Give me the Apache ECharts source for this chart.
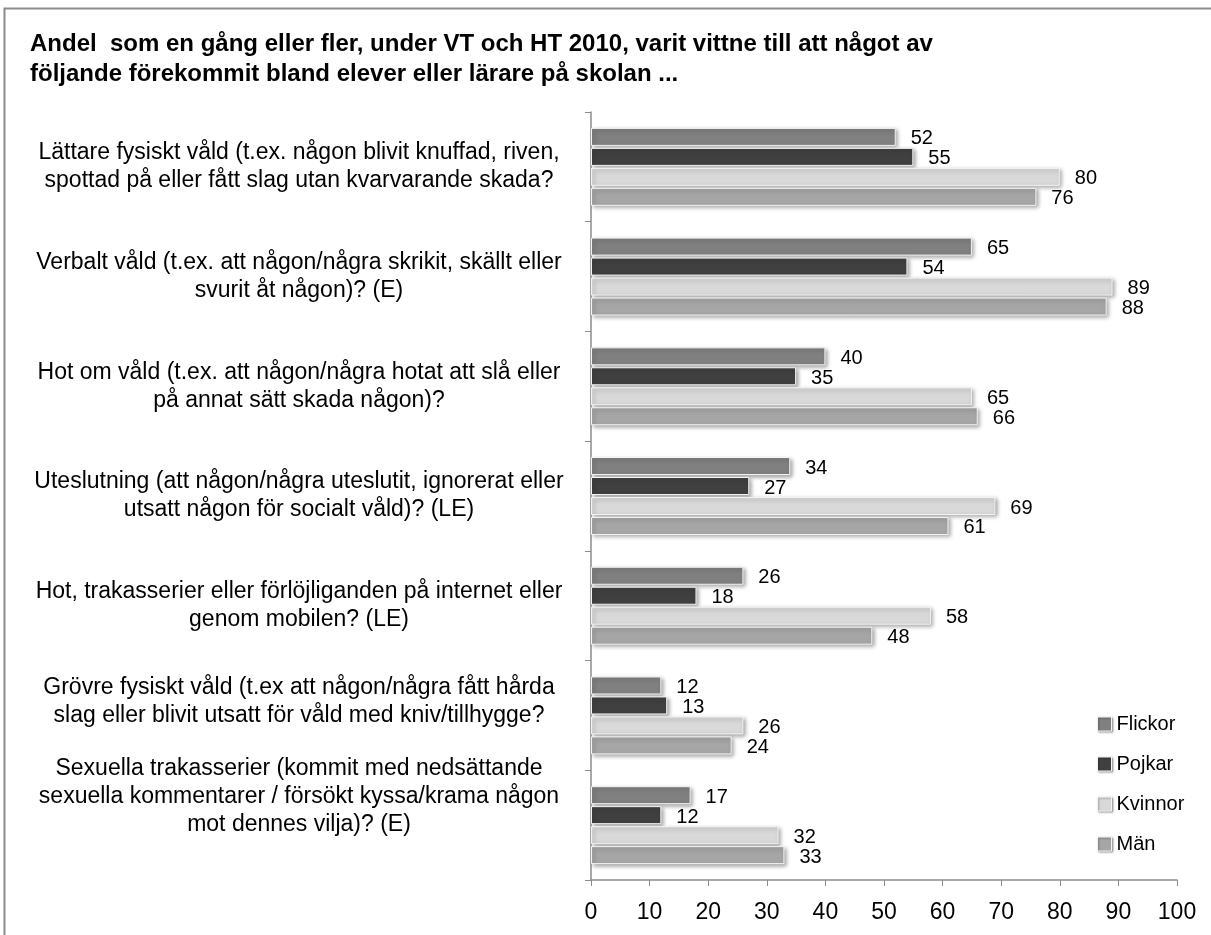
<!DOCTYPE html>
<html>
<head>
<meta charset="utf-8">
<script src="https://cdn.jsdelivr.net/npm/echarts@6/dist/echarts.min.js"></script>
<style>
  html, body { margin: 0; padding: 0; background: #fff; }
  #chart { width: 1211px; height: 935px; }
</style>
</head>
<body>
<div id="chart"></div>
<script>
  // categories, top to bottom
  var categories = [
    'Lättare fysiskt våld (t.ex. någon blivit knuffad, riven,\nspottad på eller fått slag utan kvarvarande skada?',
    'Verbalt våld (t.ex. att någon/några skrikit, skällt eller\nsvurit åt någon)? (E)',
    'Hot om våld (t.ex. att någon/några hotat att slå eller\npå annat sätt skada någon)?',
    'Uteslutning (att någon/några uteslutit, ignorerat eller\nutsatt någon för socialt våld)? (LE)',
    'Hot, trakasserier eller förlöjliganden på internet eller\ngenom mobilen? (LE)',
    'Grövre fysiskt våld (t.ex att någon/några fått hårda\nslag eller blivit utsatt för våld med kniv/tillhygge?',
    'Sexuella trakasserier (kommit med nedsättande\nsexuella kommentarer / försökt kyssa/krama någon\nmot dennes vilja)? (E)'
  ]
  var seriesNames = ['Flickor', 'Pojkar', 'Kvinnor', 'Män']
  var flickor = [52, 65, 40, 34, 26, 12, 17]
  var pojkar = [55, 54, 35, 27, 18, 13, 12]
  var kvinnor = [80, 89, 65, 69, 58, 26, 32]
  var man = [76, 88, 66, 61, 48, 24, 33]
  var xTicks = [0, 10, 20, 30, 40, 50, 60, 70, 80, 90, 100]

  var colors = ['#808080', '#404040', '#d9d9d9', '#a6a6a6']
  var font = '"Liberation Sans", "DejaVu Sans", sans-serif'
  // the last two labels sit a bit higher than their bars in the original,
  // empty trailing lines push them up
  var labelLift = [0, 0, 0, 0, 0, 1, 2]

  function makeSeries(name, values, i) {
    return {
      name: name,
      type: 'bar',
      barWidth: 18,
      barGap: '11%',
      itemStyle: {
        color: colors[i],
        borderColor: '#f4f4f4',
        borderWidth: 1,
        shadowColor: 'rgba(0,0,0,0.35)',
        shadowBlur: 4,
        shadowOffsetX: 2,
        shadowOffsetY: 2
      },
      label: {
        show: true,
        position: 'right',
        distance: 15,
        offset: [0, 2],
        color: '#000',
        fontFamily: font,
        fontSize: 20
      },
      data: values
    }
  }

  var myChart = echarts.init(document.getElementById('chart'))
  myChart.setOption({
    animation: false,
    color: colors,
    textStyle: { fontFamily: font },
    title: {
      text: 'Andel  som en gång eller fler, under VT och HT 2010, varit vittne till att något av\nföljande förekommit bland elever eller lärare på skolan ...',
      left: 25,
      top: 24,
      textStyle: { fontSize: 24, fontWeight: 'bold', color: '#000', lineHeight: 30, fontFamily: font }
    },
    graphic: [{
      type: 'rect',
      shape: { x: 4.5, y: 8.5, width: 1260, height: 1000 },
      style: { fill: 'none', stroke: '#8c8c8c', lineWidth: 2 },
      silent: true
    }],
    legend: {
      orient: 'vertical',
      left: 1092,
      top: 709,
      icon: 'rect',
      itemWidth: 14,
      itemHeight: 14,
      itemGap: 20,
      itemStyle: {
        borderColor: '#f4f4f4',
        borderWidth: 1,
        shadowColor: 'rgba(0,0,0,0.35)',
        shadowBlur: 2,
        shadowOffsetX: 1,
        shadowOffsetY: 1
      },
      textStyle: { fontSize: 20, color: '#000', fontFamily: font },
      data: seriesNames
    },
    grid: {
      left: 591,
      right: 34,
      top: 112,
      bottom: 55,
      containLabel: false,
      outerBoundsMode: 'none'
    },
    xAxis: {
      type: 'value',
      min: 0,
      max: 100,
      interval: 10,
      axisLine: { show: true, lineStyle: { color: '#8c8c8c', width: 1.5 } },
      axisTick: { show: true, length: 6, lineStyle: { color: '#8c8c8c' } },
      splitLine: { show: false },
      axisLabel: {
        margin: 21,
        fontSize: 23,
        color: '#000',
        fontFamily: font,
        formatter: function (v) { return xTicks.indexOf(v) >= 0 ? String(v) : '' }
      }
    },
    yAxis: {
      type: 'category',
      inverse: true,
      data: categories.map(function (c, i) {
        return c + new Array(labelLift[i] + 1).join('\n ')
      }),
      axisLine: { show: true, lineStyle: { color: '#8c8c8c', width: 1.5 } },
      axisTick: { show: true, length: 6, lineStyle: { color: '#8c8c8c' } },
      axisLabel: {
        interval: 0,
        hideOverlap: false,
        align: 'center',
        margin: 292,
        fontSize: 23,
        lineHeight: 28,
        color: '#000',
        fontFamily: font
      }
    },
    series: [
      makeSeries(seriesNames[0], flickor, 0),
      makeSeries(seriesNames[1], pojkar, 1),
      makeSeries(seriesNames[2], kvinnor, 2),
      makeSeries(seriesNames[3], man, 3)
    ]
  })
</script>
</body>
</html>
